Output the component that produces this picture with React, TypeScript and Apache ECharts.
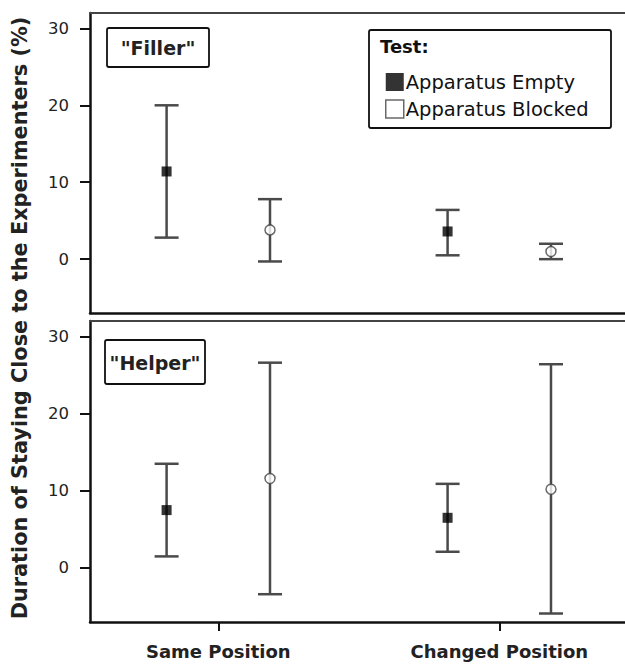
import React, { useEffect, useRef } from 'react';
import * as echarts from 'echarts';

const categories = ['Same Position', 'Changed Position'];
const groups = ['Apparatus Empty', 'Apparatus Blocked'];
const yTicks = [0, 10, 20, 30];
const xTicks = [1, 2];

const fillerEmptyMean = [11.4, 3.6];
const fillerEmptyLow = [2.8, 0.5];
const fillerEmptyHigh = [20.0, 6.4];
const fillerBlockedMean = [3.8, 1.0];
const fillerBlockedLow = [-0.3, 0.0];
const fillerBlockedHigh = [7.8, 2.0];

const helperEmptyMean = [7.5, 6.5];
const helperEmptyLow = [1.5, 2.1];
const helperEmptyHigh = [13.5, 10.9];
const helperBlockedMean = [11.6, 10.2];
const helperBlockedLow = [-3.4, -5.9];
const helperBlockedHigh = [26.6, 26.4];

const GROUP_OFFSET = [-0.184, 0.184];
const FONT = '"DejaVu Sans", "Open Sans", sans-serif';
const X_MIN = 0.5434;
const X_MAX = 2.4474;

function xPos(catIdx: number, grpIdx: number) {
  return catIdx + 1 + GROUP_OFFSET[grpIdx];
}

function errData(low: number[], high: number[], g: number) {
  return low.map((l, i) => [xPos(i, g), l, high[i]]);
}
function meanData(mean: number[], g: number) {
  return mean.map((m, i) => [xPos(i, g), m]);
}

const renderErr = (params: any, api: any) => {
  const x = api.value(0);
  const lo = api.coord([x, api.value(1)]);
  const hi = api.coord([x, api.value(2)]);
  const cap = 12;
  const style = { stroke: '#4a4a4a', lineWidth: 2.5 };
  return {
    type: 'group',
    children: [
      { type: 'line', shape: { x1: lo[0], y1: lo[1], x2: hi[0], y2: hi[1] }, style },
      { type: 'line', shape: { x1: hi[0] - cap, y1: hi[1], x2: hi[0] + cap, y2: hi[1] }, style },
      { type: 'line', shape: { x1: lo[0] - cap, y1: lo[1], x2: lo[0] + cap, y2: lo[1] }, style },
    ],
  };
};

export default function App() {
  const ref = useRef<HTMLDivElement>(null);
  useEffect(() => {
    if (!ref.current) return;
    const chart = echarts.init(ref.current, undefined, { renderer: 'svg' });
    const xAxisBase = (gridIndex: number, showLabels: boolean) => ({
      type: 'value',
      gridIndex,
      position: 'bottom',
      min: X_MIN,
      max: X_MAX,
      axisLine: { show: true, onZero: false, lineStyle: { color: '#111', width: 2.5 } },
      axisTick: { show: showLabels, customValues: xTicks, length: 9, lineStyle: { color: '#111', width: 2 } },
      axisLabel: {
        show: showLabels,
        customValues: xTicks,
        margin: 20,
        fontSize: 18,
        fontWeight: 'bold',
        fontFamily: FONT,
        color: '#222',
        formatter: (v: number) => categories[Math.round(v) - 1] || '',
      },
      splitLine: { show: false },
    });
    const xAxisTop = (gridIndex: number) => ({
      type: 'value',
      gridIndex,
      position: 'top',
      min: X_MIN,
      max: X_MAX,
      axisLine: { show: true, onZero: false, lineStyle: { color: '#444', width: 2 } },
      axisTick: { show: false },
      axisLabel: { show: false },
      splitLine: { show: false },
    });
    const yAxisBase = (gridIndex: number) => ({
      type: 'value',
      gridIndex,
      min: -7,
      max: 32,
      axisLine: { show: true, onZero: false, lineStyle: { color: '#111', width: 2.5 } },
      axisTick: { show: true, customValues: yTicks, length: 10, lineStyle: { color: '#111', width: 2 } },
      axisLabel: {
        show: true,
        customValues: yTicks,
        margin: 21,
        fontSize: 16.5,
        fontFamily: FONT,
        color: '#222',
      },
      splitLine: { show: false },
    });
    const scatterS = (name: string, gi: number, data: number[][], blocked: boolean) => ({
      name,
      type: 'scatter',
      xAxisIndex: gi,
      yAxisIndex: gi,
      data,
      z: 5,
      symbol: blocked ? 'circle' : 'rect',
      symbolSize: 10,
      itemStyle: blocked
        ? { color: '#fff', borderColor: '#444', borderWidth: 1.5 }
        : { color: '#000', borderColor: '#000', borderWidth: 0 },
    });
    const errS = (gi: number, data: number[][]) => ({
      type: 'custom',
      xAxisIndex: gi,
      yAxisIndex: gi,
      data,
      z: 2,
      renderItem: renderErr,
      silent: true,
    });
    chart.setOption({
      animation: false,
      backgroundColor: '#fff',
      grid: [
        { left: 90, top: 13, height: 300, right: 0, show: false },
        { left: 90, top: 321, height: 301, right: 0, show: false },
      ],
      xAxis: [xAxisBase(0, false), xAxisBase(1, true), xAxisTop(0), xAxisTop(1)],
      yAxis: [yAxisBase(0), yAxisBase(1)],
      legend: {
        left: 380,
        top: 67,
        orient: 'vertical',
        itemGap: 7,
        itemWidth: 18,
        itemHeight: 18,
        selectedMode: false,
        textStyle: { fontSize: 19.5, fontFamily: FONT, color: '#111', padding: [0, 0, 0, -3] },
        data: [
          { name: groups[0], icon: 'rect', itemStyle: { color: '#000', borderColor: '#000', borderWidth: 0 } },
          { name: groups[1], icon: 'rect', itemStyle: { color: '#fff', borderColor: '#444', borderWidth: 1.5 } },
        ],
      },
      graphic: [
        {
          type: 'text',
          rotation: Math.PI / 2,
          x: 20,
          y: 318,
          style: {
            text: 'Duration of Staying Close to the Experimenters (%)',
            fontSize: 20.8,
            fontWeight: 'bold',
            fontFamily: FONT,
            fill: '#222',
            align: 'center',
            verticalAlign: 'middle',
          },
        },
        { type: 'rect', shape: { x: 107, y: 28, width: 102, height: 39, r: 2 }, style: { fill: '#fff', stroke: '#111', lineWidth: 1.8 }, z: 10 },
        { type: 'text', x: 158, y: 48, z: 11, style: { text: '"Filler"', fontSize: 19, fontWeight: 'bold', fontFamily: FONT, fill: '#222', align: 'center', verticalAlign: 'middle' } },
        { type: 'rect', shape: { x: 105, y: 340, width: 100, height: 44, r: 2 }, style: { fill: '#fff', stroke: '#111', lineWidth: 1.8 }, z: 10 },
        { type: 'text', x: 155, y: 363, z: 11, style: { text: '"Helper"', fontSize: 19, fontWeight: 'bold', fontFamily: FONT, fill: '#222', align: 'center', verticalAlign: 'middle' } },
        { type: 'rect', shape: { x: 369, y: 30, width: 242, height: 98, r: 2 }, style: { fill: '#fff', stroke: '#111', lineWidth: 1.8 }, z: 0 },
        { type: 'text', x: 380, y: 46, z: 11, style: { text: 'Test:', fontSize: 18, fontWeight: 'bold', fontFamily: FONT, fill: '#111', align: 'left', verticalAlign: 'middle' } },
      ],
      series: [
        errS(0, errData(fillerEmptyLow, fillerEmptyHigh, 0)),
        errS(0, errData(fillerBlockedLow, fillerBlockedHigh, 1)),
        errS(1, errData(helperEmptyLow, helperEmptyHigh, 0)),
        errS(1, errData(helperBlockedLow, helperBlockedHigh, 1)),
        scatterS(groups[0], 0, meanData(fillerEmptyMean, 0), false),
        scatterS(groups[1], 0, meanData(fillerBlockedMean, 1), true),
        scatterS(groups[0], 1, meanData(helperEmptyMean, 0), false),
        scatterS(groups[1], 1, meanData(helperBlockedMean, 1), true),
      ],
    });
    return () => chart.dispose();
  }, []);
  return (
    <div
      ref={ref}
      style={{ position: 'fixed', left: 0, top: 0, width: 625, height: 666, background: '#fff' }}
    />
  );
}
